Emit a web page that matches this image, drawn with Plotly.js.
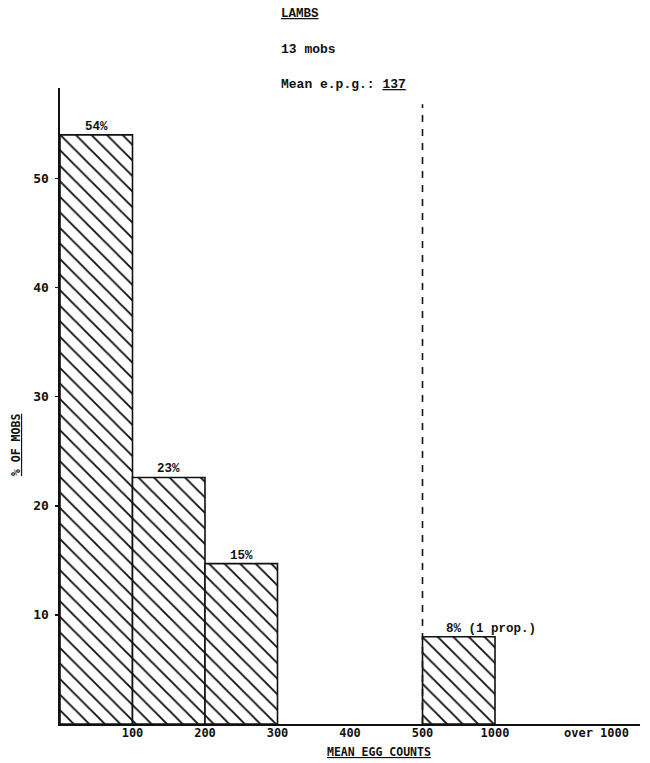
<!DOCTYPE html>
<html>
<head>
<meta charset="utf-8">
<script src="https://cdn.plot.ly/plotly-3.0.1.min.js"></script>
<style>html,body{margin:0;padding:0;background:#fff;}#chart{width:650px;height:763px;}</style>
</head>
<body>
<div id="chart"></div>
<script>
// Data
const binLeft   = [0, 1, 2, 5];                 // bin slot start (0-100, 100-200, 200-300, 500-1000)
const binWidth  = [1, 1, 1, 1];
const pctMobs   = [54, 22.6, 14.7, 8];           // bar heights (% of mobs)
const barLabels = ['54%', '23%', '15%', '8% (1 prop.)'];
const tickPos   = [1, 2, 3, 4, 5, 6, 7.4];
const tickText  = ['100', '200', '300', '400', '500', '1000', 'over 1000'];
const cutoffPos = 5;                             // dashed line at 500
const cutoffTop = 56.8;

const mono = '"Liberation Mono", "DejaVu Sans Mono", monospace';
const monoB = '"DejaVu Sans Mono", "Liberation Mono", monospace';

const centers = binLeft.map((v, i) => v + binWidth[i] / 2);

const trace = {
  type: 'bar',
  x: centers,
  y: pctMobs,
  width: binWidth,
  marker: {
    color: 'rgba(255,255,255,0)',
    line: {color: '#111', width: 1.6},
    pattern: {shape: '\\', fgcolor: '#111', bgcolor: '#fff', size: 11, solidity: 0.17}
  },
  hoverinfo: 'skip'
};

const labelAnn = barLabels.map((t, i) => ({
  x: i === barLabels.length - 1 ? binLeft[i] + 0.3 : centers[i],
  y: pctMobs[i],
  xref: 'x', yref: 'y',
  text: t,
  showarrow: false,
  xanchor: i === barLabels.length - 1 ? 'left' : 'center',
  yanchor: 'bottom',
  yshift: -1,
  font: {family: mono, size: 12.5, color: '#111', weight: 'bold'}
}));

const px = v => (v - 60) / 580;
const py = v => (724 - v) / 636;

const textAnn = [
  {x: px(279), y: py(14), text: '<b><u>LAMBS</u></b>', xanchor: 'left', yanchor: 'middle', font: {family: mono, size: 12.5, color: '#111'}},
  {x: px(279), y: py(50), text: '13 mobs', xanchor: 'left', yanchor: 'middle', font: {family: mono, size: 13, color: '#111', weight: 'bold'}},
  {x: px(279), y: py(85), text: 'Mean e.p.g.: <u>137</u>', xanchor: 'left', yanchor: 'middle', font: {family: mono, size: 13, color: '#111', weight: 'bold'}},
  {x: px(379), y: py(752), text: '<b><u>MEAN EGG COUNTS</u></b>', xanchor: 'center', yanchor: 'middle', font: {family: monoB, size: 11.5, color: '#111'}},
  {x: px(16), y: py(445), text: '<b><u>% OF MOBS</u></b>', textangle: -90, xanchor: 'center', yanchor: 'middle', font: {family: monoB, size: 11.5, color: '#111'}}
].map(a => Object.assign({xref: 'paper', yref: 'paper', showarrow: false}, a));

const layout = {
  width: 650, height: 763,
  margin: {l: 60, r: 10, t: 88, b: 39},
  paper_bgcolor: '#fff', plot_bgcolor: '#fff',
  showlegend: false,
  bargap: 0,
  xaxis: {
    range: [0, 8], showgrid: false, zeroline: false,
    showline: true, linecolor: '#111', linewidth: 1.6,
    tickmode: 'array', tickvals: tickPos, ticktext: tickText,
    ticks: '', ticklabelstandoff: -3,
    tickfont: {family: monoB, size: 12, color: '#111', weight: 'bold'}
  },
  yaxis: {
    range: [0, 58.3], showgrid: false, zeroline: false,
    showline: true, linecolor: '#111', linewidth: 1.6,
    tickmode: 'array', tickvals: [10, 20, 30, 40, 50],
    ticks: 'outside', ticklen: 3, tickwidth: 1.5, tickcolor: '#111',
    ticklabelstandoff: 4,
    tickfont: {family: monoB, size: 13, color: '#111', weight: 'bold'}
  },
  shapes: [{
    type: 'line', xref: 'x', yref: 'y',
    x0: cutoffPos, x1: cutoffPos, y0: 0, y1: cutoffTop,
    line: {color: '#111', width: 1.6, dash: '7px,7px'}
  }],
  annotations: labelAnn.concat(textAnn)
};

Plotly.newPlot('chart', [trace], layout, {staticPlot: true, displayModeBar: false});
</script>
</body>
</html>
